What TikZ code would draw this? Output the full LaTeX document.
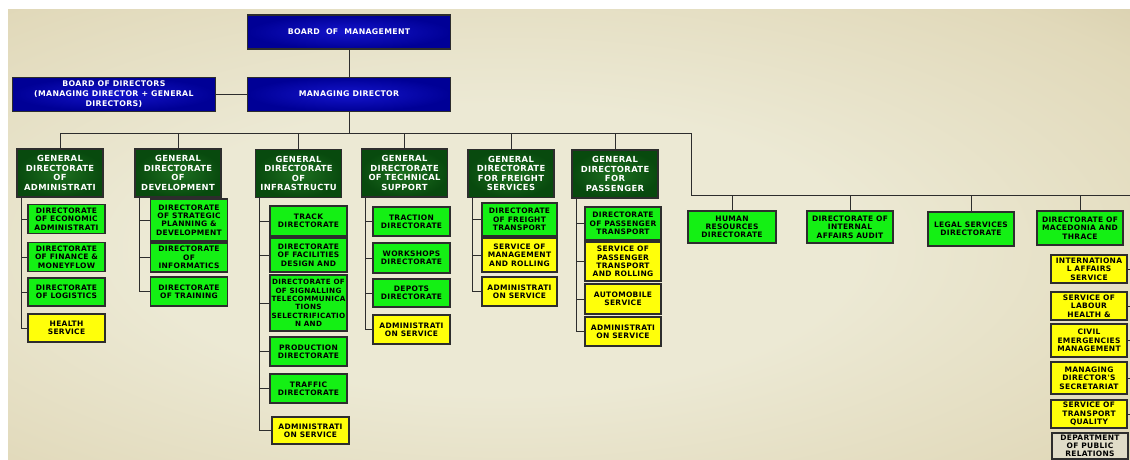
\documentclass[tikz,border=0pt]{standalone}
\usepackage{fontspec}
\newfontfamily\orgfont{DejaVu Sans}[LetterSpace=4]
\usetikzlibrary{positioning}
\definecolor{edge}{RGB}{45,45,45}
\definecolor{bgin}{RGB}{236,233,212}
\definecolor{bgmid}{RGB}{225,217,186}
\definecolor{bgout}{RGB}{202,190,152}
\definecolor{bossin}{RGB}{20,20,205}
\definecolor{bossout}{RGB}{0,0,150}
\definecolor{gdin}{RGB}{30,112,32}
\definecolor{gdout}{RGB}{8,74,14}
\definecolor{dirgreen}{RGB}{20,240,20}
\definecolor{servyellow}{RGB}{255,255,10}
\definecolor{deptgray}{RGB}{224,220,200}
\pgfdeclareradialshading{bgshade}{\pgfpoint{-4bp}{-2bp}}{color(0bp)=(bgin); color(16bp)=(bgin); color(34bp)=(bgmid); color(50bp)=(bgout); color(75bp)=(bgout)}

\begin{document}
\begin{tikzpicture}
	[x=1pt, y=-1pt, inner sep=0pt, align=center,
	 box/.style={draw=edge, line width=1.1pt, minimum width=77pt, minimum height=29pt},
	 boss/.style={box, shade, inner color=bossin, outer color=bossout, text=white,
	   minimum width=203pt, minimum height=34pt,
	   font=\orgfont\bfseries\fontsize{7.8}{9.8}\selectfont},
	 gdir/.style={box, shade, inner color=gdin, outer color=gdout, text=white,
	   minimum width=86pt, minimum height=48pt,
	   font=\orgfont\bfseries\fontsize{8.4}{9.6}\selectfont},
	 dir/.style={box, fill=dirgreen, font=\orgfont\bfseries\fontsize{7.5}{8.3}\selectfont},
	 serv/.style={dir, fill=servyellow},
	 dept/.style={dir, fill=deptgray},
	 line/.style={draw=edge, line width=1pt},
	 hv/.style={to path={-| (\tikztotarget)}},
	 vh/.style={to path={|- (\tikztotarget)}}]
   \useasboundingbox (0,0) rectangle (1130,460);
   \fill[white] (0,0) rectangle (1130,460);
   \shade[shading=bgshade] (8,10) rectangle (1130,460);

   % top of the tree
   \node[boss] (bom) at (349,32) {BOARD\ \ OF\ \ MANAGEMENT};
   \node[boss] (md) [below=27pt of bom] {MANAGING DIRECTOR};
   \node[boss] (bod) [left=31pt of md] {BOARD OF DIRECTORS\\(MANAGING DIRECTOR + GENERAL\\DIRECTORS)};

   % general directorates
   \node[gdir] (gd_1) at (60,173) {GENERAL\\DIRECTORATE\\OF\\ADMINISTRATI};
   \node[gdir] (gd_2) at (178,173) {GENERAL\\DIRECTORATE\\OF\\DEVELOPMENT};
   \node[gdir] (gd_3) at (298.5,173.5) {GENERAL\\DIRECTORATE\\OF\\INFRASTRUCTU};
   \node[gdir] (gd_4) at (404.5,173) {GENERAL\\DIRECTORATE\\OF TECHNICAL\\SUPPORT};
   \node[gdir] (gd_5) at (511,173.5) {GENERAL\\DIRECTORATE\\FOR FREIGHT\\SERVICES};
   \node[gdir] (gd_6) at (615,174) {GENERAL\\DIRECTORATE\\FOR\\PASSENGER};

   % administration
   \node[dir] (d_11) at (66.5,219) {DIRECTORATE\\OF ECONOMIC\\ADMINISTRATI};
   \node[dir] (d_12) at (66.5,257) {DIRECTORATE\\OF FINANCE \&\\MONEYFLOW};
   \node[dir, minimum height=28pt] (d_13) at (66.5,292) {DIRECTORATE\\OF LOGISTICS};
   \node[serv, minimum height=28pt] (d_14) at (66.5,328) {HEALTH\\SERVICE};
   % development
   \node[dir, minimum height=42pt] (d_21) at (189,220) {DIRECTORATE\\OF STRATEGIC\\PLANNING \&\\DEVELOPMENT};
   \node[dir] (d_22) at (189,257.5) {DIRECTORATE\\OF\\INFORMATICS};
   \node[dir] (d_23) at (189,291.5) {DIRECTORATE\\OF TRAINING};
   % infrastructure
   \node[dir, minimum height=30pt] (d_31) at (308.5,221) {TRACK\\DIRECTORATE};
   \node[dir, minimum height=34pt] (d_32) at (308.5,255) {DIRECTORATE\\OF FACILITIES\\DESIGN AND};
   \node[dir, minimum height=56pt, font=\orgfont\bfseries\fontsize{7.2}{8.3}\selectfont] (d_33) at (308.5,303) {DIRECTORATE OF\\OF SIGNALLING\\TELECOMMUNICA\\TIONS\\SELECTRIFICATIO\\N AND};
   \node[dir] (d_34) at (308.5,351.5) {PRODUCTION\\DIRECTORATE};
   \node[dir] (d_35) at (308.5,388.5) {TRAFFIC\\DIRECTORATE};
   \node[serv, minimum height=27pt] (d_36) at (310.5,430.5) {ADMINISTRATI\\ON SERVICE};
   % technical support
   \node[dir] (d_41) at (411.5,221.5) {TRACTION\\DIRECTORATE};
   \node[dir, minimum height=30pt] (d_42) at (411.5,258) {WORKSHOPS\\DIRECTORATE};
   \node[dir, minimum height=28pt] (d_43) at (411.5,293) {DEPOTS\\DIRECTORATE};
   \node[serv] (d_44) at (411.5,329.5) {ADMINISTRATI\\ON SERVICE};
   % freight
   \node[dir, minimum width=75pt, minimum height=33pt] (d_51) at (519.5,219.5) {DIRECTORATE\\OF FREIGHT\\TRANSPORT};
   \node[serv, minimum width=75pt, minimum height=34pt] (d_52) at (519.5,255) {SERVICE OF\\MANAGEMENT\\AND ROLLING};
   \node[serv, minimum width=75pt] (d_53) at (519.5,291.5) {ADMINISTRATI\\ON SERVICE};
   % passenger
   \node[dir, minimum width=76pt, minimum height=33pt] (d_61) at (623,223.5) {DIRECTORATE\\OF PASSENGER\\TRANSPORT};
   \node[serv, minimum width=76pt, minimum height=39pt] (d_62) at (623,261.5) {SERVICE OF\\PASSENGER\\TRANSPORT\\AND ROLLING};
   \node[serv, minimum width=76pt, minimum height=30pt] (d_63) at (623,299) {AUTOMOBILE\\SERVICE};
   \node[serv, minimum width=76pt] (d_64) at (623,331.5) {ADMINISTRATI\\ON SERVICE};

   % directorates under the managing director
   \node[dir, minimum width=88pt, minimum height=32pt] (r_1) at (732,227) {HUMAN\\RESOURCES\\DIRECTORATE};
   \node[dir, minimum width=86pt, minimum height=32pt] (r_2) at (850,227) {DIRECTORATE OF\\INTERNAL\\AFFAIRS AUDIT};
   \node[dir, minimum width=86pt, minimum height=34pt] (r_3) at (971,229) {LEGAL SERVICES\\DIRECTORATE};
   \node[dir, minimum width=86pt, minimum height=34pt] (r_4) at (1080,228) {DIRECTORATE OF\\MACEDONIA AND\\THRACE};

   % services
   \node[serv, minimum width=76pt, minimum height=28pt] (s_1) at (1089,269) {INTERNATIONA\\L AFFAIRS\\SERVICE};
   \node[serv, minimum width=76pt, minimum height=28pt] (s_2) at (1089,306) {SERVICE OF\\LABOUR\\HEALTH \&};
   \node[serv, minimum width=76pt, minimum height=33pt] (s_3) at (1089,340.5) {CIVIL\\EMERGENCIES\\MANAGEMENT};
   \node[serv, minimum width=76pt, minimum height=32pt] (s_4) at (1089,378) {MANAGING\\DIRECTOR'S\\SECRETARIAT};
   \node[serv, minimum width=76pt, minimum height=28pt] (s_5) at (1089,414) {SERVICE OF\\TRANSPORT\\QUALITY};
   \node[dept, minimum width=76pt, minimum height=26pt] (s_6) at (1090,446) {DEPARTMENT\\OF PUBLIC\\RELATIONS};

   \coordinate (bus) at (349,133);
   \coordinate (turn) at (691,133);
   \coordinate (bus2) at (691,195);
   \coordinate (busend) at (1130,195);
   \coordinate (rsp) at (1130,0);

   \path[line]
    (bom) edge (md)
    (bod) edge (md)
    (md) edge (bus)
    (bus) edge[hv] (gd_1.north)
    (bus) edge[hv] (gd_2.north)
    (bus) edge[hv] (gd_3.north)
    (bus) edge[hv] (gd_4.north)
    (bus) edge[hv] (gd_5.north)
    (bus) edge[hv] (gd_6.north)
    (bus) edge (turn)
    (turn) edge (bus2)
    (bus2) edge (busend)
    (bus2) edge[hv] (r_1.north)
    (bus2) edge[hv] (r_2.north)
    (bus2) edge[hv] (r_3.north)
    (bus2) edge[hv] (r_4.north);

   \foreach \g/\list in {gd_1/{d_11,d_12,d_13,d_14}, gd_2/{d_21,d_22,d_23},
      gd_3/{d_31,d_32,d_33,d_34,d_35,d_36}, gd_4/{d_41,d_42,d_43,d_44},
      gd_5/{d_51,d_52,d_53}, gd_6/{d_61,d_62,d_63,d_64}}
     \foreach \d in \list
       \path[line] ([xshift=5pt]\g.south west) edge[vh] (\d.west);

   \foreach \s in {s_1,s_2,s_3,s_4,s_5}
     \path[line] (\s.east) edge (\s.east -| rsp);
\end{tikzpicture}
\end{document}
